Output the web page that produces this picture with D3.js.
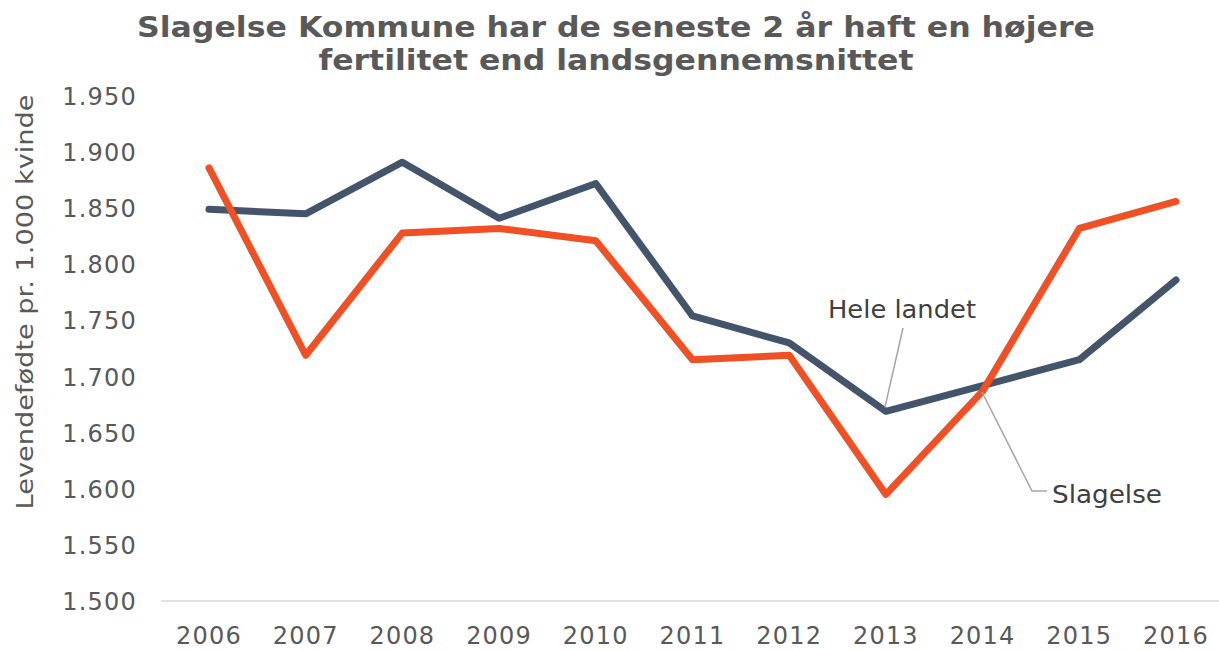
<!DOCTYPE html>
<html><head><meta charset="utf-8">
<script src="https://cdn.jsdelivr.net/npm/d3@7"></script>
<style>body{margin:0;background:#fff}svg{display:block}</style>
</head><body><svg id="c" width="1219" height="650"></svg>
<script>
const years = ["2006","2007","2008","2009","2010","2011","2012","2013","2014","2015","2016"];
const heleLandet = [1.849,1.845,1.891,1.841,1.872,1.754,1.730,1.669,1.692,1.715,1.786];
const slagelse = [1.886,1.719,1.828,1.832,1.821,1.715,1.719,1.595,1.687,1.832,1.856];
const yTicks = [1.5,1.55,1.6,1.65,1.7,1.75,1.8,1.85,1.9,1.95];
const titleLines = ["Slagelse Kommune har de seneste 2 år haft en højere","fertilitet end landsgennemsnittet"];
const yLabel = "Levendefødte pr. 1.000 kvinde";

const svg = d3.select("#c");
const x = d3.scalePoint().domain(years).range([209,1176]);
const y = d3.scaleLinear().domain([1.5,1.95]).range([601,96]);
const grey = "#595959";

// title
svg.append("text").attr("x",616).attr("text-anchor","middle")
  .attr("font-family","DejaVu Sans").attr("font-weight","bold").attr("font-size",28).attr("fill",grey)
  .selectAll("tspan").data(titleLines).join("tspan")
  .attr("x",616).attr("y",(d,i)=>37+i*33).text(d=>d)
  .attr("textLength",(d,i)=>i===0?958:595).attr("lengthAdjust","spacingAndGlyphs");

// y axis labels
svg.append("g").selectAll("text").data(yTicks).join("text")
  .attr("x",137).attr("y",d=>y(d)+9).attr("text-anchor","end")
  .attr("font-family","DejaVu Sans").attr("font-size",24).attr("letter-spacing",1.2).attr("fill",grey)
  .text(d=>d3.format(".3f")(d));

// y title
svg.append("text").attr("transform","translate(33,302) rotate(-90)").attr("text-anchor","middle")
  .attr("font-family","DejaVu Sans").attr("font-size",23).attr("fill",grey)
  .attr("textLength",415).attr("lengthAdjust","spacingAndGlyphs").text(yLabel);

// x axis line
svg.append("line").attr("x1",161).attr("x2",1219).attr("y1",y(1.5)).attr("y2",y(1.5))
  .attr("stroke","#d9d9d9").attr("stroke-width",1.5);

// x labels
svg.append("g").selectAll("text").data(years).join("text")
  .attr("x",d=>x(d)).attr("y",644).attr("text-anchor","middle")
  .attr("font-family","DejaVu Sans").attr("font-size",24).attr("letter-spacing",1.2).attr("fill",grey).text(d=>d);

const line = d3.line().x((d,i)=>x(years[i])).y(d=>y(d));
svg.append("path").datum(heleLandet).attr("d",line).attr("fill","none")
  .attr("stroke","#44546a").attr("stroke-width",7).attr("stroke-linejoin","round").attr("stroke-linecap","round");
svg.append("path").datum(slagelse).attr("d",line).attr("fill","none")
  .attr("stroke","#f05023").attr("stroke-width",7).attr("stroke-linejoin","round").attr("stroke-linecap","round");

// annotations
const hx = x("2013"), hy = y(heleLandet[7]);
svg.append("line").attr("x1",903).attr("y1",328).attr("x2",hx-1).attr("y2",hy-4).attr("stroke","#a6a6a6").attr("stroke-width",1.5);
svg.append("text").attr("x",828).attr("y",318)
  .attr("font-family","DejaVu Sans").attr("font-size",24).attr("fill","#404040")
  .attr("textLength",148).attr("lengthAdjust","spacingAndGlyphs").text("Hele landet");
svg.append("polyline").attr("points",`982,392 1032,491 1047,491`).attr("fill","none").attr("stroke","#a6a6a6").attr("stroke-width",1.5);
svg.append("text").attr("x",1052).attr("y",503)
  .attr("font-family","DejaVu Sans").attr("font-size",24).attr("fill","#404040")
  .attr("textLength",110).attr("lengthAdjust","spacingAndGlyphs").text("Slagelse");
</script></body></html>
